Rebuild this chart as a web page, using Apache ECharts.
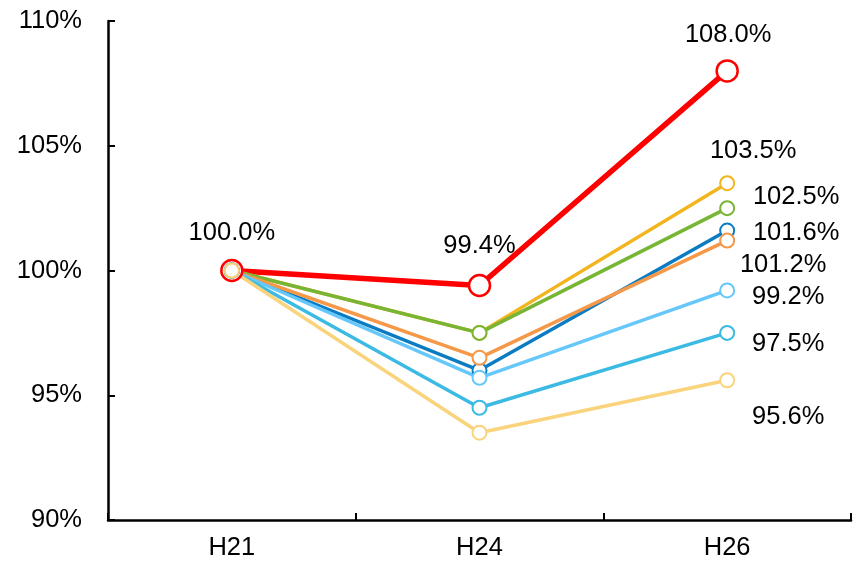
<!DOCTYPE html>
<html><head><meta charset="utf-8">
<script src="https://cdn.jsdelivr.net/npm/echarts@6/dist/echarts.min.js"></script>
<style>html,body{margin:0;padding:0;background:#fff}#c{width:863px;height:565px}</style>
</head><body><div id="c"></div>
<script>
var categories = ['H21', 'H24', 'H26'];
var yTicks = { min: 90, max: 110, interval: 5 };
var sRed = [100.0, 99.4, 108.0];
var sGold = [100.0, 97.5, 103.5];
var sGreen = [100.0, 97.5, 102.5];
var sDarkBlue = [100.0, 96.0, 101.6];
var sOrange = [100.0, 96.5, 101.2];
var sLightBlue = [100.0, 95.7, 99.2];
var sCyan = [100.0, 94.5, 97.5];
var sPaleYellow = [100.0, 93.5, 95.6];

// style config (not data)
var cfg = [
  { d: sRed, color: '#ff0000', w: 5.5, size: 21, bw: 2.5, labels: { 0: [0, -38], 1: [0, -40], 2: [1, -36] } },
  { d: sGold, color: '#f2b51e', w: 3.5, size: 14, bw: 2, labels: { 2: [26, -32] } },
  { d: sGreen, color: '#78b534', w: 3.5, size: 14, bw: 2, labels: { 2: [69, -11] } },
  { d: sDarkBlue, color: '#0c7cc2', w: 3.5, size: 14, bw: 2, labels: { 2: [69, 2] } },
  { d: sOrange, color: '#f59848', w: 3.5, size: 14, bw: 2, labels: { 2: [56, 24] } },
  { d: sLightBlue, color: '#66c8fa', w: 3.5, size: 14, bw: 2, labels: { 2: [61, 7] } },
  { d: sCyan, color: '#3bbbe3', w: 3.5, size: 14, bw: 2, labels: { 2: [61, 11] } },
  { d: sPaleYellow, color: '#fad37d', w: 3.5, size: 14, bw: 2, labels: { 2: [61, 37] } }
];

var FONT = '"Liberation Sans", Arial, sans-serif';
var FS = 25.5;
var series = cfg.map(function (c) {
  return {
    type: 'line',
    symbol: 'circle',
    symbolSize: c.size,
    lineStyle: { color: c.color, width: c.w },
    itemStyle: { color: '#fff', borderColor: c.color, borderWidth: c.bw },
    emphasis: { disabled: true },
    data: c.d.map(function (v, i) {
      var item = { value: v };
      if (c.labels[i]) {
        item.label = {
          show: true, position: 'inside', offset: c.labels[i],
          formatter: function (p) { return p.value.toFixed(1) + '%'; },
          color: '#000', fontSize: FS, fontFamily: FONT
        };
      }
      return item;
    })
  };
});

var chart = echarts.init(document.getElementById('c'));
chart.setOption({
  animation: false,
  backgroundColor: '#fff',
  grid: { left: 108, right: 12, top: 21, bottom: 45, containLabel: false },
  xAxis: {
    type: 'category', data: categories, boundaryGap: true,
    axisLine: { lineStyle: { color: '#000', width: 2.5 } },
    axisTick: { show: true, inside: true, length: 7, lineStyle: { color: '#000', width: 2 } },
    axisLabel: { color: '#000', fontSize: FS, fontFamily: FONT, margin: 15 },
    splitLine: { show: false }
  },
  yAxis: {
    type: 'value', min: yTicks.min, max: yTicks.max, interval: yTicks.interval,
    axisLine: { show: true, lineStyle: { color: '#000', width: 2.5 } },
    axisTick: { show: true, inside: true, length: 7, lineStyle: { color: '#000', width: 2 } },
    axisLabel: { color: '#000', fontSize: FS, fontFamily: FONT, margin: 26, formatter: '{value}%' },
    splitLine: { show: false }
  },
  series: series
});
</script></body></html>
